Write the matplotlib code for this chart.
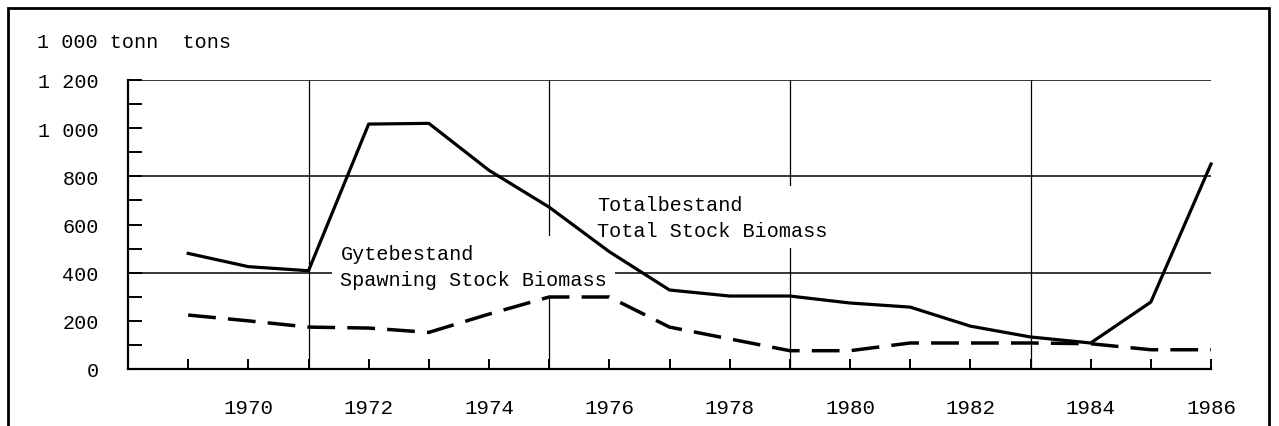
import matplotlib

matplotlib.use("Agg")
import matplotlib.pyplot as plt
from matplotlib.patches import Rectangle

# Stock biomass, 1 000 tonnes
years = list(range(1969, 1987))
total_stock = [480, 425, 408, 1017, 1020, 825, 672, 487, 328, 303, 303, 274,
               257, 178, 133, 108, 278, 851]
spawning_stock = [224, 200, 174, 170, 152, 228, 299, 299, 174, 125, 76, 76,
                  108, 108, 108, 105, 80, 80]

y_ticks = [0, 200, 400, 600, 800, 1000, 1200]
y_labels = ["0", "200", "400", "600", "800", "1 000", "1 200"]
x_label_years = list(range(1970, 1987, 2))
grid_years = [1971, 1975, 1979, 1983]
grid_levels = [400, 800, 1200]

FONT = "Liberation Mono"
plt.rcParams["font.family"] = [FONT, "DejaVu Sans Mono"]

W, H = 1279, 427
fig = plt.figure(figsize=(W / 100, H / 100), dpi=100)
ax = fig.add_axes([128 / W, 1 - 370 / H, (1211 - 128) / W, (370 - 81) / H])

# outer frame
fig.patches.append(Rectangle((8 / W, -0.1), (1269 - 8) / W, 1.1 - 9 / H,
                             transform=fig.transFigure, fill=False,
                             lw=2.0, ec="black", zorder=0))

ax.set_xlim(1968, 1986)
ax.set_ylim(0, 1200)
for side in ("top", "right"):
    ax.spines[side].set_visible(False)
for side in ("left", "bottom"):
    ax.spines[side].set_linewidth(1.6)

for lvl in grid_levels:
    ax.axhline(lvl, color="black", lw=1.1, zorder=1)
for yr in grid_years:
    ax.axvline(yr, color="black", lw=0.9, zorder=1)

ax.plot(years, total_stock, color="black", lw=2.3, zorder=4,
        solid_joinstyle="round", clip_on=False)
ax.plot(years, spawning_stock, color="black", lw=2.5, zorder=4,
        dashes=(8, 3.5), clip_on=False)

ax.set_yticks(y_ticks)
ax.set_yticklabels(y_labels)
ax.set_yticks(range(100, 1200, 200), minor=True)
ax.set_xticks(years)
ax.set_xticklabels([str(y) if y in x_label_years else "" for y in years])
ax.tick_params(axis="y", which="both", direction="in", length=10, width=1.4,
               pad=21, labelsize=14.5)
ax.tick_params(axis="x", direction="in", length=7, width=1.4, pad=21,
               labelsize=15)

box = dict(facecolor="white", edgecolor="none", pad=6)
ax.text(1971.53, 425, "Gytebestand\nSpawning Stock Biomass", fontsize=14.5,
        va="center", ha="left", linespacing=1.5, bbox=box, zorder=3)
ax.text(1975.8, 630, "Totalbestand\nTotal Stock Biomass", fontsize=14.5,
        va="center", ha="left", linespacing=1.5, bbox=box, zorder=3)

fig.text(37 / W, 1 - 43 / H, "1 000 tonn  tons", fontsize=14.5, va="center",
         ha="left")

fig.savefig("out.png", dpi=100)
